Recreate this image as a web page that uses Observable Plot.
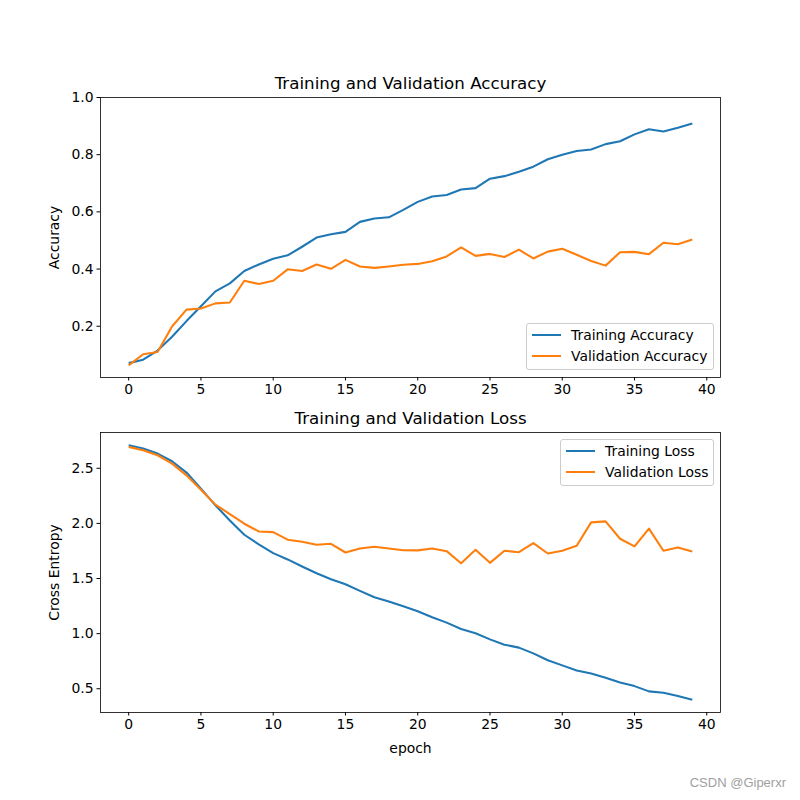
<!DOCTYPE html>
<html>
<head>
<meta charset="utf-8">
<script src="https://cdn.jsdelivr.net/npm/d3@7"></script>
<script src="https://cdn.jsdelivr.net/npm/@observablehq/plot@0.6"></script>
<style>
  html, body { margin: 0; padding: 0; background: #fff; }
  #wrap { position: relative; width: 800px; height: 800px; font-family: "DejaVu Sans", sans-serif; }
  #wrap svg { position: absolute; left: 0; }
  .legend { position: absolute; background: rgba(255,255,255,0.8); border: 1px solid #ccc; border-radius: 3px; box-sizing: border-box; font-size: 13.9px; color: #000; }
  .legend .sw { position: absolute; height: 2px; }
  .legend .lbl { position: absolute; line-height: 14px; white-space: nowrap; }
  #wm { position: absolute; right: 14px; top: 775px; font-size: 13px; color: #a0a0a0; font-family: "Liberation Sans", Arial, sans-serif; }
</style>
</head>
<body>
<div id="wrap"></div>
<script>
const epochs = d3.range(40);
const trainAcc = [0.071,0.083,0.115,0.163,0.218,0.270,0.322,0.350,0.393,0.416,
  0.436,0.448,0.478,0.510,0.522,0.530,0.565,0.577,0.581,0.607,
  0.635,0.654,0.659,0.678,0.683,0.716,0.725,0.740,0.758,0.784,
  0.800,0.813,0.818,0.837,0.847,0.871,0.889,0.881,0.894,0.909];
const valAcc = [0.063,0.102,0.110,0.199,0.258,0.262,0.280,0.283,0.359,0.348,
  0.359,0.399,0.393,0.416,0.401,0.432,0.409,0.404,0.409,0.415,
  0.418,0.427,0.444,0.476,0.446,0.453,0.442,0.468,0.437,0.461,
  0.471,0.450,0.428,0.412,0.459,0.460,0.452,0.492,0.487,0.503];
const trainLoss = [2.709,2.679,2.633,2.564,2.461,2.315,2.164,2.027,1.897,1.809,
  1.730,1.673,1.609,1.548,1.494,1.448,1.388,1.330,1.291,1.248,
  1.203,1.148,1.100,1.042,1.003,0.948,0.900,0.873,0.821,0.758,
  0.712,0.666,0.639,0.600,0.557,0.524,0.476,0.464,0.434,0.400];
const valLoss = [2.694,2.664,2.618,2.542,2.436,2.306,2.170,2.085,1.997,1.927,
  1.921,1.852,1.833,1.806,1.815,1.736,1.773,1.788,1.773,1.757,
  1.755,1.773,1.748,1.639,1.761,1.642,1.752,1.739,1.821,1.727,
  1.752,1.797,2.009,2.018,1.861,1.791,1.952,1.752,1.782,1.745];
const xTicks = [0,5,10,15,20,25,30,35,40];
const accTicks = [0.2,0.4,0.6,0.8,1.0];
const lossTicks = [0.5,1.0,1.5,2.0,2.5];
const C1 = "#1f77b4", C2 = "#ff7f0e";

function pad(ext, top) {
  const r = ext[1] - ext[0];
  return [ext[0] - 0.05 * r, top != null ? top : ext[1] + 0.05 * r];
}
const xDomain = pad(d3.extent(epochs));
const wrap = document.getElementById("wrap");

function panel({series, names, yDomain, yTicks, yLabel, xLabel, title, mt, mb, top}) {
  const rows = [];
  series.forEach((s, k) => s.forEach((v, i) => rows.push({epoch: epochs[i], value: v, name: names[k]})));
  const svg = Plot.plot({
    width: 800, height: 400,
    marginLeft: 100, marginRight: 80, marginTop: mt, marginBottom: mb,
    style: {fontFamily: "DejaVu Sans, sans-serif", fontSize: "13.9px", background: "white", color: "black", overflow: "visible"},
    x: {domain: xDomain, ticks: xTicks, tickFormat: "d", label: xLabel, labelArrow: "none", labelAnchor: "center", labelOffset: 40, tickSize: 3.5, tickPadding: 3.5},
    y: {domain: yDomain, ticks: yTicks, tickFormat: ".1f", label: yLabel, labelArrow: "none", labelAnchor: "center", labelOffset: 51, tickSize: 3.5, tickPadding: 3.5},
    color: {domain: names, range: [C1, C2]},
    marks: [
      Plot.line(rows, {x: "epoch", y: "value", z: "name", stroke: "name", strokeWidth: 2.08, strokeLinejoin: "round", strokeLinecap: "butt"}),
      Plot.frame({stroke: "black", strokeWidth: 0.8}),
      Plot.text([title], {text: d => d, frameAnchor: "top", lineAnchor: "bottom", dy: -9, fontSize: 16.7})
    ]
  });
  svg.style.top = top + "px";
  wrap.appendChild(svg);
}

panel({series: [trainAcc, valAcc], names: ["Training Accuracy", "Validation Accuracy"],
  yDomain: pad(d3.extent(trainAcc.concat(valAcc)), 1.0), yTicks: accTicks,
  yLabel: "Accuracy", xLabel: null, title: "Training and Validation Accuracy", mt: 97, mb: 23, top: 0});
panel({series: [trainLoss, valLoss], names: ["Training Loss", "Validation Loss"],
  yDomain: pad(d3.extent(trainLoss.concat(valLoss))), yTicks: lossTicks,
  yLabel: "Cross Entropy", xLabel: "epoch", title: "Training and Validation Loss", mt: 32, mb: 88, top: 400});

function legend(names, box) {
  const d = document.createElement("div");
  d.className = "legend";
  Object.assign(d.style, {left: box.x + "px", top: box.y + "px", width: box.w + "px", height: box.h + "px"});
  names.forEach((n, i) => {
    const sw = document.createElement("div");
    sw.className = "sw";
    Object.assign(sw.style, {left: "5px", width: "29px", top: (11 + i * 20.8 - 1) + "px", background: [C1, C2][i]});
    const t = document.createElement("div");
    t.className = "lbl";
    t.textContent = n;
    Object.assign(t.style, {left: "44px", top: (11 + i * 20.8 - 7) + "px"});
    d.appendChild(sw); d.appendChild(t);
  });
  wrap.appendChild(d);
}
legend(["Training Accuracy", "Validation Accuracy"], {x: 526, y: 323, w: 188, h: 47});
legend(["Training Loss", "Validation Loss"], {x: 560, y: 439, w: 154, h: 47});

const wm = document.createElement("div");
wm.id = "wm"; wm.textContent = "CSDN @Giperxr";
wrap.appendChild(wm);
</script>
</body>
</html>
